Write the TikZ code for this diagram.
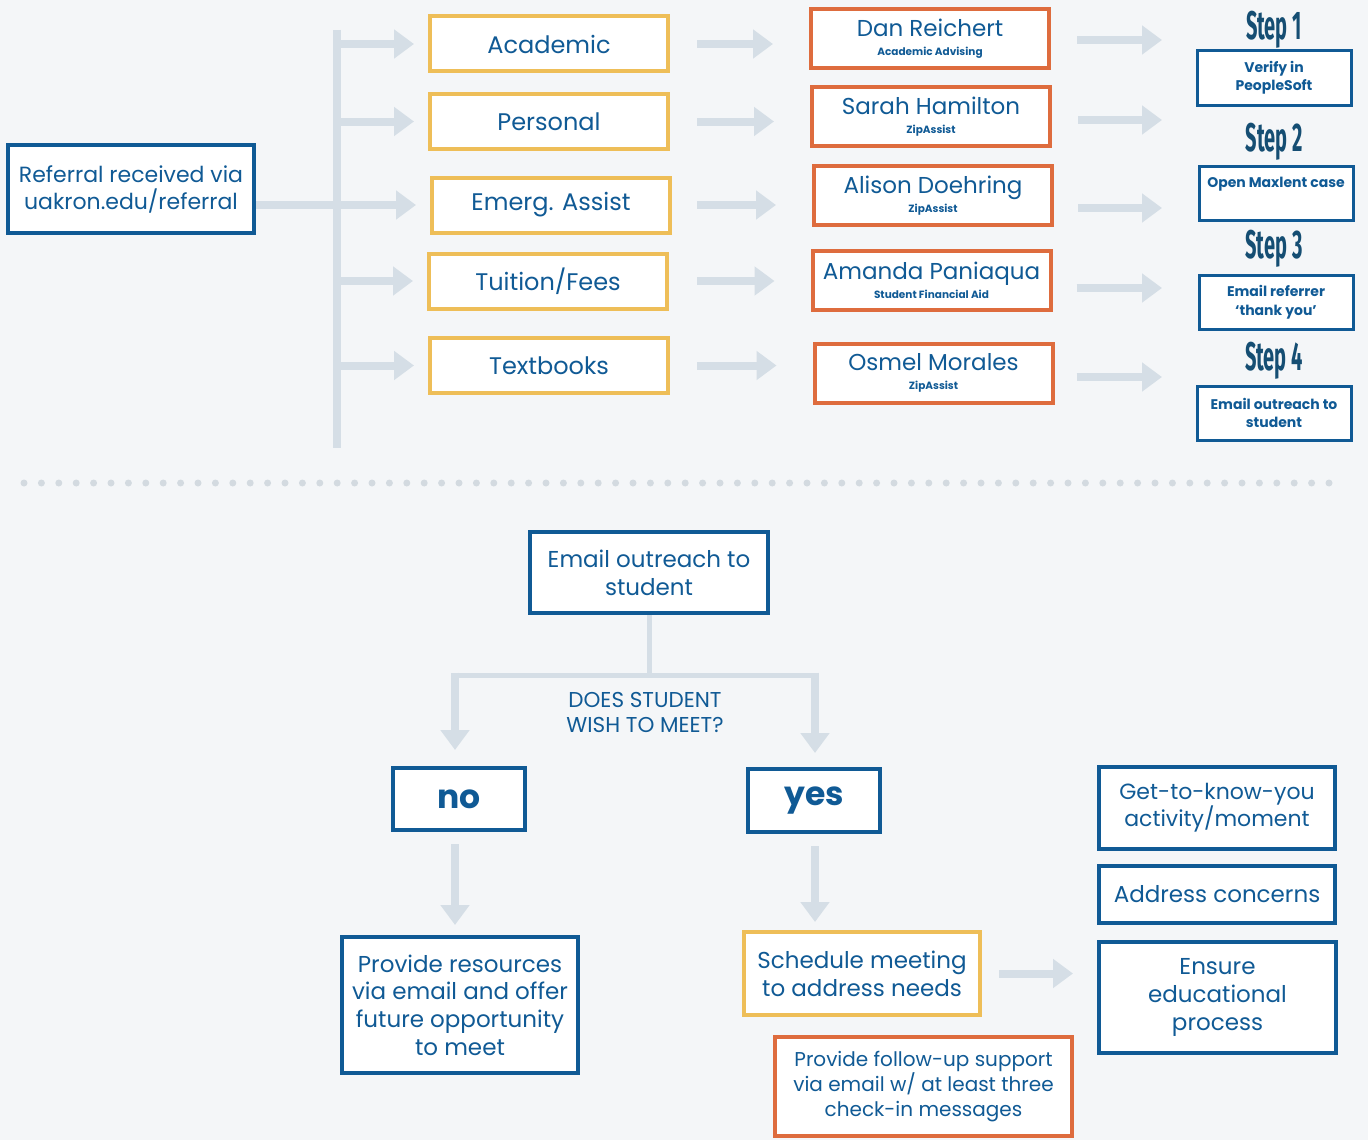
\documentclass[tikz,border=0pt]{standalone}
\usepackage{fontspec}
\usepackage{graphicx}
\setmainfont{Poppins}
\newfontfamily\stepfont{Fira Sans}
\usetikzlibrary{arrows.meta}
\definecolor{ublue}{HTML}{105A95}
\definecolor{ustep}{HTML}{154E73}
\definecolor{uyel}{HTML}{EEBE58}
\definecolor{uorg}{HTML}{DE6C3E}
\definecolor{uarr}{HTML}{D5DEE6}
\definecolor{ubg}{HTML}{F4F6F8}
\definecolor{udot}{HTML}{D3DAE0}
\begin{document}
\begin{tikzpicture}[x=1pt,y=-1pt,
  basebox/.style={draw, fill=white, text=ublue, align=center, inner sep=0pt, line width=4pt},
  bluebox/.style={basebox, draw=ublue},
  yelbox/.style={basebox, draw=uyel, minimum width=238pt, minimum height=55pt, font=\fontsize{24}{28}\selectfont},
  orgbox/.style={basebox, draw=uorg, minimum width=238pt, minimum height=59pt, font=\fontsize{23}{24}\selectfont},
  stepbox/.style={basebox, draw=ublue, line width=3pt, minimum width=154pt, minimum height=54pt, font=\bfseries\fontsize{14}{18.5}\selectfont},
  steplbl/.style={text=ustep, inner sep=0pt, font=\stepfont\bfseries\fontsize{40}{40}\selectfont},
  midtxt/.style={font=\fontsize{22}{27}\selectfont},
  lowtxt/.style={font=\fontsize{23}{27.7}\selectfont},
  flow/.style={draw=uarr, line width=8pt, -{Triangle[length=20pt,width=28pt]}},
  trunk/.style={draw=uarr, line width=8pt},
  thinline/.style={draw=uarr, line width=5pt},
]
\fill[ubg] (0,0) rectangle (1368,1140);
\useasboundingbox (0,0) rectangle (1368,1140);

% ---------- top part ----------
\node[bluebox, minimum width=246pt, minimum height=88pt, midtxt] (ref) at (131,189) {Referral received via\\uakron.edu/referral};

\node[yelbox] (acad)  at (549,44)    {Academic};
\node[yelbox] (pers)  at (549,121.5) {Personal};
\node[yelbox] (emerg) at (551,205)   {Emerg. Assist};
\node[yelbox] (tuit)  at (548,281)   {Tuition/Fees};
\node[yelbox] (textb) at (549,365.5) {Textbooks};

\newcommand{\pname}[2]{#1\\[-5pt]{\fontsize{10.5}{12}\selectfont\bfseries #2}}
\node[orgbox] (dan)    at (930,38.5)   {\pname{Dan Reichert}{Academic Advising}};
\node[orgbox] (sarah)  at (931,116.5)  {\pname{Sarah Hamilton}{ZipAssist}};
\node[orgbox] (alison) at (933,195.5)  {\pname{Alison Doehring}{ZipAssist}};
\node[orgbox] (amanda) at (931.5,280.5){\pname{Amanda Paniaqua}{Student Financial Aid}};
\node[orgbox] (osmel)  at (933.5,373)  {\pname{Osmel Morales}{ZipAssist}};

\node[steplbl] (st1) at (1274,30)  {\scalebox{0.5}[1]{Step 1}};
\node[steplbl] (st2) at (1274,142) {\scalebox{0.5}[1]{Step 2}};
\node[steplbl] (st3) at (1274,249) {\scalebox{0.5}[1]{Step 3}};
\node[steplbl] (st4) at (1274,361) {\scalebox{0.5}[1]{Step 4}};
\node[stepbox] (sb1) at (1274,78)  {Verify in\\PeopleSoft};
\node[stepbox, text height=14pt, text depth=26pt] (sb2) at (1276,193) {Open Maxlent case};
\node[stepbox] (sb3) at (1276,302) {Email referrer\\`thank you'};
\node[stepbox] (sb4) at (1274,413) {Email outreach to\\student};

% trunk and branches
\coordinate (tt) at (337,30);
\coordinate (tb) at (337,448);
\draw[trunk] (tt) -- (tb);
\draw[flow, shorten >=14pt] (ref.east |- emerg.west) -- (emerg.west);
\foreach \n in {acad,pers,tuit,textb}{
  \draw[flow, shorten >=14pt] (tt |- \n.west) -- (\n.west);
}
\draw[flow, shorten <=27pt, shorten >=36pt] (acad.east)  -- (acad.east -| dan.west);
\draw[flow, shorten <=27pt, shorten >=36pt] (pers.east)  -- (pers.east -| sarah.west);
\draw[flow, shorten <=25pt, shorten >=36pt] (emerg.east) -- (emerg.east -| alison.west);
\draw[flow, shorten <=28pt, shorten >=36pt] (tuit.east)  -- (tuit.east -| amanda.west);
\draw[flow, shorten <=27pt, shorten >=36pt] (textb.east) -- (textb.east -| osmel.west);

\coordinate (c1) at (1162,40);
\coordinate (c2) at (1162,120);
\coordinate (c3) at (1162,208);
\coordinate (c4) at (1162,288);
\coordinate (c5) at (1162,377);
\draw[flow, shorten <=26pt] (dan.east |- c1) -- (c1);
\draw[flow, shorten <=26pt] (sarah.east |- c2) -- (c2);
\draw[flow, shorten <=24pt] (alison.east |- c3) -- (c3);
\draw[flow, shorten <=24pt] (amanda.east |- c4) -- (c4);
\draw[flow, shorten <=22pt] (osmel.east |- c5) -- (c5);

% divider
\coordinate (dl) at (24,483);
\coordinate (dr) at (1332,483);
\draw[udot, line width=7pt, line cap=round, dash pattern=on 0pt off 17.4pt] (dl) -- (dr);

% ---------- bottom part ----------
\node[bluebox, minimum width=238pt, minimum height=81pt, lowtxt] (email) at (649,572.5) {Email outreach to\\student};
\node[text=ublue, align=center, font=\fontsize{21.5}{25}\selectfont] (q) at (645,712) {DOES STUDENT\\WISH TO MEET?};
\node[bluebox, minimum width=132pt, minimum height=62pt, font=\bfseries\fontsize{33}{36}\selectfont] (no) at (459,799) {no};
\node[bluebox, minimum width=132pt, minimum height=63pt, font=\bfseries\fontsize{33}{36}\selectfont] (yes) at (814,800.5) {yes};
\node[bluebox, minimum width=236pt, minimum height=136pt, lowtxt] (prov) at (460,1005) {Provide resources\\via email and offer\\future opportunity\\to meet};
\node[basebox, draw=uyel, minimum width=236pt, minimum height=83pt, lowtxt] (sched) at (862,973.5) {Schedule meeting\\to address needs};
\node[bluebox, minimum width=236pt, minimum height=82pt, midtxt] (gtk) at (1217,808) {Get-to-know-you\\activity/moment};
\node[bluebox, minimum width=236pt, minimum height=57pt, lowtxt] (addr) at (1217,894.5) {Address concerns};
\node[bluebox, minimum width=237pt, minimum height=111pt, lowtxt] (ens) at (1217.5,997.5) {Ensure\\educational\\process};
\node[basebox, draw=uorg, minimum width=297pt, minimum height=99pt, font=\fontsize{20}{25}\selectfont] (fup) at (923.5,1086.5) {Provide follow-up support\\via email w/ at least three\\check-in messages};

\coordinate (j)  at (649,675);
\coordinate (jl) at (455,675);
\coordinate (jr) at (815,675);
\draw[thinline] (email.south) -- (j);
\draw[thinline] (jl) -- (jr);
\draw[flow, shorten >=16pt] ([yshift=2.5pt]jl) -- (jl |- no.north);
\draw[flow, shorten >=14pt] ([yshift=2.5pt]jr) -- (jr |- yes.north);
\draw[flow, shorten <=12pt, shorten >=10pt] (jl |- no.south) -- (jl |- prov.north);
\draw[flow, shorten <=12pt, shorten >=8pt] (jr |- yes.south) -- (jr |- sched.north);
\draw[flow, shorten <=17pt, shorten >=24pt] (sched.east) -- (sched.east -| ens.west);
\end{tikzpicture}
\end{document}
